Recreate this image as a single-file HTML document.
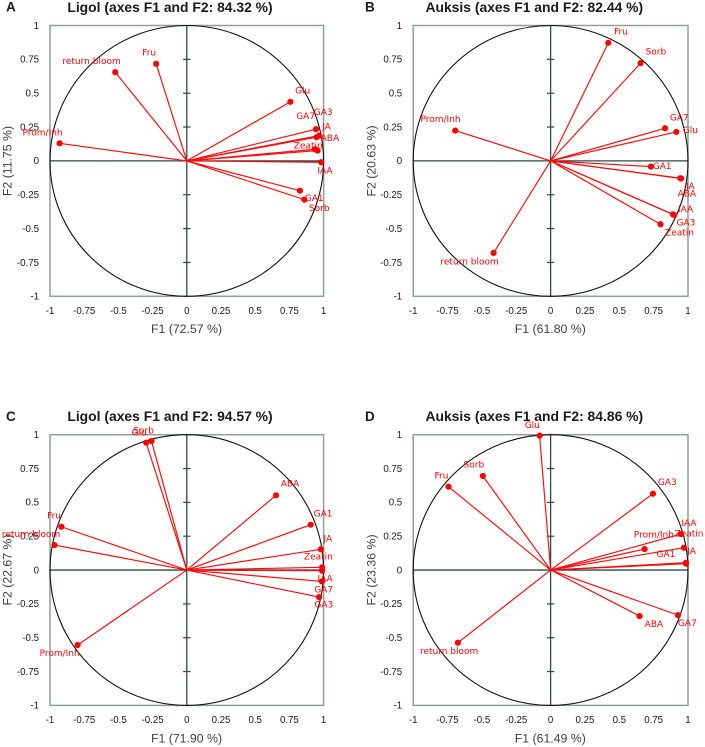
<!DOCTYPE html>
<html lang="en">
<head>
<meta charset="utf-8">
<title>Correlation circles</title>
<style>
html,body{margin:0;padding:0;background:#fff;width:705px;height:747px;overflow:hidden}
svg{display:block;filter:blur(0.3px)}
.title{font:bold 13.9px "Liberation Sans",Arial,sans-serif;fill:#1a1a1a;text-anchor:middle}
.letter{font:bold 13.5px "Liberation Sans",Arial,sans-serif;fill:#1a1a1a}
.tick{font:9.7px "Liberation Sans",Arial,sans-serif;fill:#1a1a1a}
.axt{font:12.3px "Liberation Sans",Arial,sans-serif;fill:#404040;text-anchor:middle}
.lab{font:9px "DejaVu Sans",sans-serif;fill:#ff0000;text-anchor:middle}
</style>
</head>
<body>
<svg id="fig" xmlns="http://www.w3.org/2000/svg" width="705" height="747" viewBox="0 0 705 747">
<text class="letter" x="6" y="11.5">A</text>
<text class="letter" x="365" y="11.5">B</text>
<text class="letter" x="6" y="421">C</text>
<text class="letter" x="365" y="421">D</text>
<text class="title" x="170" y="12">Ligol (axes F1 and F2: 84.32 %)</text>
<text class="title" x="534.3" y="12">Auksis (axes F1 and F2: 82.44 %)</text>
<text class="title" x="170" y="421">Ligol (axes F1 and F2: 94.57 %)</text>
<text class="title" x="534.3" y="421">Auksis (axes F1 and F2: 84.86 %)</text>
<text class="axt" x="186.5" y="333">F1 (72.57 %)</text>
<text class="axt" x="550.3" y="333">F1 (61.80 %)</text>
<text class="axt" x="186.5" y="742.5">F1 (71.90 %)</text>
<text class="axt" x="550.3" y="742.5">F1 (61.49 %)</text>
<text class="axt" transform="translate(11.5,161) rotate(-90)">F2 (11.75 %)</text>
<text class="axt" transform="translate(375.5,161) rotate(-90)">F2 (20.63 %)</text>
<text class="axt" transform="translate(11.5,570) rotate(-90)">F2 (22.67 %)</text>
<text class="axt" transform="translate(375.5,570) rotate(-90)">F2 (23.36 %)</text>
</svg>
<script>
const tickValues = [-1, -0.75, -0.5, -0.25, 0, 0.25, 0.5, 0.75, 1];

const variablesA = ['Prom/Inh','return bloom','Fru','Glu','GA3','GA7','JA','ABA','Zeatin','IAA','GA1','Sorb'];
const f1ValuesA = [-0.93,-0.523,-0.224,0.757,0.944,0.949,0.968,0.956,0.937,0.983,0.827,0.859];
const f2ValuesA = [0.13,0.655,0.717,0.436,0.234,0.175,0.187,0.076,0.086,-0.01,-0.22,-0.286];

const variablesB = ['Prom/Inh','Fru','Sorb','GA7','Glu','GA1','JA','ABA','IAA','GA3','Zeatin','return bloom'];
const f1ValuesB = [-0.694,0.42,0.655,0.833,0.915,0.73,0.944,0.95,0.9,0.89,0.8,-0.415];
const f2ValuesB = [0.224,0.872,0.722,0.241,0.214,-0.042,-0.128,-0.13,-0.4,-0.395,-0.468,-0.68];

const variablesC = ['Fru','return bloom','Prom/Inh','Glu','Sorb','ABA','GA1','JA','Zeatin','IAA','GA7','GA3'];
const f1ValuesC = [-0.917,-0.968,-0.798,-0.297,-0.258,0.652,0.906,0.98,0.989,0.989,0.988,0.967];
const f2ValuesC = [0.32,0.185,-0.554,0.941,0.953,0.552,0.335,0.153,0.02,-0.005,-0.084,-0.2];

const variablesD = ['Glu','Sorb','Fru','GA3','Prom/Inh','IAA','Zeatin','JA','GA1','ABA','GA7','return bloom'];
const f1ValuesD = [-0.08,-0.493,-0.743,0.745,0.684,0.949,0.971,0.985,0.985,0.648,0.927,-0.675];
const f2ValuesD = [0.993,0.695,0.616,0.564,0.155,0.266,0.165,0.054,0.047,-0.34,-0.333,-0.537];

/* Label placement relative to each point (layout only, not data) */
const labelNudgeA = [[-17,-11],[-23.7,-11.7],[-7,-11.7],[12.3,-11.7],[7.3,-17.3],[-11,-21.3],[7.3,-9.3],[12.3,-12.7],[-6.7,-4],[3.7,8],[14.3,7],[15,8.3]];
const labelNudgeB = [[-14.7,-12],[12.7,-11.7],[15.3,-12],[14.3,-11.3],[14,-2.3],[11.3,-1],[10,7.7],[5.7,14.7],[11.3,-6.3],[13,7.7],[19,8],[-24,8.3]];
const labelNudgeC = [[-7.3,-11.7],[-23.3,-11.3],[-18,7.7],[-7,-10.7],[-8,-11],[14,-12],[12.3,-11.3],[7,-11.3],[-3.7,-11],[3,7.3],[1.7,8],[4.7,7.3]];
const labelNudgeD = [[-7.3,-10.7],[-9,-11.7],[-7,-11.7],[14.3,-12],[9.3,-14.7],[8,-11.3],[5,-14.7],[5.7,-12],[-20,-10],[14.3,7.7],[9.3,7.7],[-8.7,8]];

const svgNS = 'http://www.w3.org/2000/svg';
const fig = document.getElementById('fig');

function add(parent, tag, attrs, txt) {
  const el = document.createElementNS(svgNS, tag);
  for (const k in attrs) el.setAttribute(k, attrs[k]);
  if (txt !== undefined) el.textContent = txt;
  parent.appendChild(el);
  return el;
}

function drawPanel(id, left, right, top, bottom, names, f1, f2, nudge) {
  const cx = (left + right) / 2, cy = (top + bottom) / 2;
  const sx = v => cx + v * (right - left) / 2;
  const sy = v => cy - v * (bottom - top) / 2;

  const g = add(fig, 'g', {});
  
  

  const box = add(g, 'rect', {x:left, y:top, width:right-left, height:bottom-top, fill:'none', stroke:'#8aa19d', 'stroke-width':1.5});
  
  

  const hAxis = add(g, 'line', {x1:sx(-1), x2:sx(1), y1:sy(0), y2:sy(0), stroke:'#2c4a48', 'stroke-width':1.3});
  
  

  const vAxis = add(g, 'line', {x1:sx(0), x2:sx(0), y1:sy(1), y2:sy(-1), stroke:'#2c4a48', 'stroke-width':1.3});
  
  

  tickValues.forEach(t => {
    if (t !== 0 && Math.abs(t) !== 1) {
      const mark = add(g, 'line', {x1:sx(0)-3.7, x2:sx(0)+3.7, y1:sy(t), y2:sy(t), stroke:'#2c4a48', 'stroke-width':1.2});
      
      
    }
    const yl = add(g, 'text', {class:'tick', x:left-11, y:sy(t)+3.3, 'text-anchor':'end'}, String(t));
    
    
    const xl = add(g, 'text', {class:'tick', x:sx(t), y:bottom+17.5, 'text-anchor':'middle'}, String(t));
    
    
  });

  const circle = add(g, 'ellipse', {cx:cx, cy:cy, rx:(right-left)/2, ry:(bottom-top)/2, fill:'none', stroke:'#111', 'stroke-width':1.1});
  
  

  names.forEach((name, i) => {
    const px = sx(f1[i]), py = sy(f2[i]);
    const vec = add(g, 'line', {x1:sx(0), y1:sy(0), x2:px, y2:py, stroke:'#ff0808', 'stroke-width':1.15});
    
    
    const dot = add(g, 'circle', {cx:px, cy:py, r:3.1, fill:'#ff0000'});
    
    
    const lab = add(g, 'text', {class:'lab', x:px+nudge[i][0], y:py+nudge[i][1]+3.3}, name);
    
    
  });
}

drawPanel('a', 50, 323.6, 25.5, 296.3, variablesA, f1ValuesA, f2ValuesA, labelNudgeA);
drawPanel('b', 413.2, 688, 25.5, 296.3, variablesB, f1ValuesB, f2ValuesB, labelNudgeB);
drawPanel('c', 50, 323.6, 434.7, 705.4, variablesC, f1ValuesC, f2ValuesC, labelNudgeC);
drawPanel('d', 413.2, 688, 434.7, 705.4, variablesD, f1ValuesD, f2ValuesD, labelNudgeD);
</script>
</body>
</html>
